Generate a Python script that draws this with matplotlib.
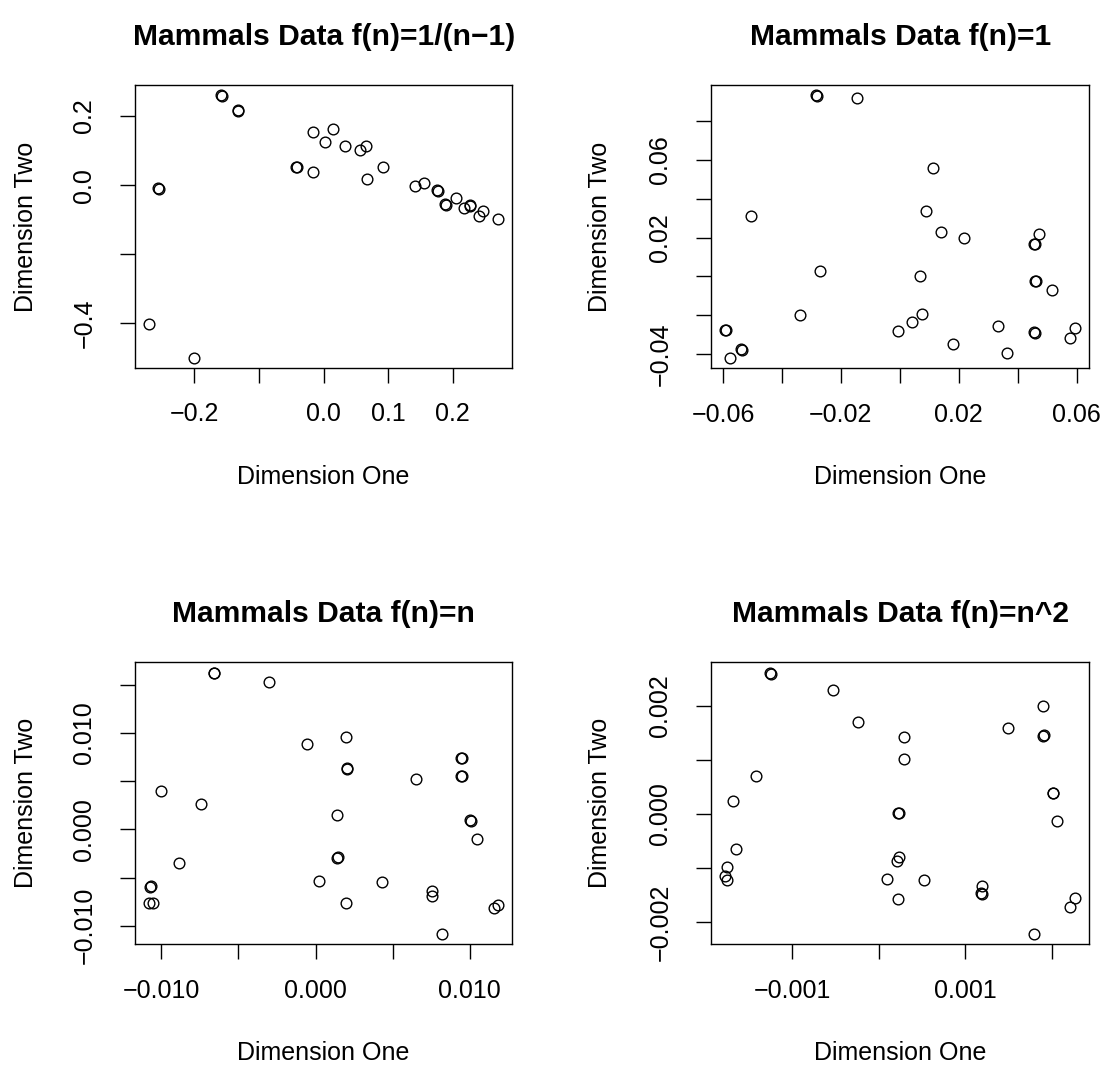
import matplotlib
matplotlib.use("Agg")
import matplotlib.pyplot as plt
import numpy as np

plt.rcParams['font.family'] = ['Liberation Sans', 'DejaVu Sans']

titles = ["Mammals Data f(n)=1/(n\u22121)", "Mammals Data f(n)=1",
          "Mammals Data f(n)=n", "Mammals Data f(n)=n^2"]
xlabel_text = "Dimension One"
ylabel_text = "Dimension Two"

# ---- panel 1: f(n)=1/(n-1)
p1_x = [-0.1586, -0.1329, -0.0170, 0.0150, 0.0026, 0.0324, 0.0561, 0.0654, -0.0428,
        -0.0170, 0.0665, 0.0922, -0.2565, 0.1407, 0.1557, 0.1757, 0.1881, 0.2056,
        0.2179, 0.2263, 0.2406, 0.2468, 0.2705, -0.2705, -0.2014,
        -0.1576, -0.1319, -0.0420, -0.2555, 0.1767, 0.1891, 0.2273]
p1_y = [0.2597, 0.2173, 0.1546, 0.1634, 0.1241, 0.1126, 0.1010, 0.1126, 0.0540,
        0.0396, 0.0194, 0.0540, -0.0095, -0.0021, 0.0078, -0.0144, -0.0557, -0.0366,
        -0.0655, -0.0577, -0.0904, -0.0741, -0.0981, -0.4030, -0.4987,
        0.2570, 0.2150, 0.0520, -0.0120, -0.0165, -0.0580, -0.0600]
p1_xticks = [-0.2, -0.1, 0.0, 0.1, 0.2]
p1_xlabels = ["\u22120.2", "", "0.0", "0.1", "0.2"]
p1_yticks = [-0.4, -0.2, 0.0, 0.2]
p1_ylabels = ["\u22120.4", "", "0.0", "0.2"]

# ---- panel 2: f(n)=1
p2_x = [-0.02834, -0.01458, 0.01142, -0.05061, 0.00895, 0.01390, 0.02183, 0.04736,
        0.04556, -0.02698, 0.00692, 0.04600, 0.05153, -0.03400, 0.00746, 0.00407,
        -0.00054, -0.05932, 0.03322, 0.04566, 0.01797, 0.03627, -0.05376, -0.05749,
        0.05956, 0.05776,
        -0.02800, 0.04580, 0.04620, -0.05900, 0.04600, -0.05350]
p2_y = [0.09325, 0.09186, 0.05600, 0.03127, 0.03385, 0.02282, 0.01973, 0.02215,
        0.01685, 0.00273, 0.00000, -0.00222, -0.00670, -0.02009, -0.01942, -0.02334,
        -0.02818, -0.02731, -0.02540, -0.02870, -0.03452, -0.03931, -0.03761, -0.04189,
        -0.02643, -0.03158,
        0.09300, 0.01660, -0.00240, -0.02750, -0.02900, -0.03790]
p2_xticks = [-0.06, -0.04, -0.02, 0.0, 0.02, 0.04, 0.06]
p2_xlabels = ["\u22120.06", "", "\u22120.02", "", "0.02", "", "0.06"]
p2_yticks = [-0.04, -0.02, 0.0, 0.02, 0.04, 0.06, 0.08]
p2_ylabels = ["\u22120.04", "", "", "0.02", "", "0.06", ""]

# ---- panel 3: f(n)=n
p3_x = [-0.006615, -0.003036, -0.000576, 0.001948, 0.002013, 0.009482, 0.009482,
        0.006505, -0.010000, -0.007411, 0.001366, 0.010000, 0.010453, 0.001411,
        -0.008880, 0.000201, 0.004304, -0.010712, 0.007540, 0.007579, -0.010803,
        -0.010544, 0.001974, 0.011573, 0.011851, 0.008226,
        -0.006560, 0.002060, 0.009430, 0.009440, 0.010050, 0.001450, -0.010680]
p3_y = [0.016188, 0.015289, 0.008853, 0.009607, 0.006374, 0.007407, 0.005506,
        0.005196, 0.003957, 0.002655, 0.001477, 0.000930, -0.001002, -0.002996,
        -0.003543, -0.005341, -0.005506, -0.005961, -0.006374, -0.006921, -0.007676,
        -0.007676, -0.007676, -0.008130, -0.007820, -0.010847,
        0.016250, 0.006300, 0.007450, 0.005560, 0.000880, -0.002900, -0.005900]
p3_xticks = [-0.010, -0.005, 0.0, 0.005, 0.010]
p3_xlabels = ["\u22120.010", "", "0.000", "", "0.010"]
p3_yticks = [-0.010, -0.005, 0.0, 0.005, 0.010, 0.015]
p3_ylabels = ["\u22120.010", "", "0.000", "", "0.010", ""]

# ---- panel 4: f(n)=n^2
p4_x = [-0.0012572, -0.000534, -0.0002457, 0.0019031, 0.0014994, 0.0019031, 0.0002884,
        0.0002884, -0.0014187, -0.0016874, 0.0020185, 0.0002191, 0.0020565, -0.0016494,
        0.0002272, 0.0002076, -0.0017566, -0.0017797, -0.0017566, 0.0000888, 0.0005225,
        0.0011961, 0.0011880, 0.0002191, 0.0017993, 0.0022722, 0.0022111,
        -0.0012470, 0.0019130, 0.0020090, 0.0002290, 0.0011790]
p4_y = [0.0026046, 0.0022857, 0.0017014, 0.0019908, 0.0015797, 0.0014378, 0.0014194,
        0.0010138, 0.0007060, 0.0002452, 0.0003926, 0.0000240, -0.0001235, -0.0006452,
        -0.0007982, -0.0008664, -0.0009825, -0.0011429, -0.0012166, -0.0011982,
        -0.0012111, -0.0013272, -0.0014802, -0.0015613, -0.0022120, -0.0015429,
        -0.0017088,
        0.0025900, 0.0014500, 0.0003800, 0.0000100, -0.0014650]
p4_xticks = [-0.001, 0.0, 0.001, 0.002]
p4_xlabels = ["\u22120.001", "", "0.001", ""]
p4_yticks = [-0.002, -0.001, 0.0, 0.001, 0.002]
p4_ylabels = ["\u22120.002", "", "0.000", "", "0.002"]

panels = [
    (p1_x, p1_y, p1_xticks, p1_xlabels, p1_yticks, p1_ylabels),
    (p2_x, p2_y, p2_xticks, p2_xlabels, p2_yticks, p2_ylabels),
    (p3_x, p3_y, p3_xticks, p3_xlabels, p3_yticks, p3_ylabels),
    (p4_x, p4_y, p4_xticks, p4_xlabels, p4_yticks, p4_ylabels),
]

W, H = 1117, 1074
fig = plt.figure(figsize=(W / 100, H / 100), dpi=100)

# axes boxes in pixels: left, top, right, bottom
boxes = [(135, 85, 512.3, 368), (711, 85, 1089.3, 368.3),
         (135, 662.3, 512.3, 944.3), (711, 662.3, 1089.3, 944.3)]
ylab_off = [97, 99, 97, 99]

FS = 18
TFS = 21.6


def rlim(v):
    lo, hi = min(v), max(v)
    r = hi - lo
    return lo - 0.04 * r, hi + 0.04 * r


for i, (px, py, xt, xl, yt, yl) in enumerate(panels):
    l, t, r, b = boxes[i]
    ax = fig.add_axes([l / W, 1 - b / H, (r - l) / W, (b - t) / H])
    ax.plot(px, py, linestyle='none', marker='o', markersize=7.7,
            markerfacecolor='none', markeredgecolor='black', markeredgewidth=1.0)
    ax.set_xlim(*rlim(px))
    ax.set_ylim(*rlim(py))
    ax.set_xticks(xt)
    ax.set_xticklabels(xl)
    ax.set_yticks(yt)
    ax.set_yticklabels(yl)
    for s in ax.spines.values():
        s.set_linewidth(1.0)
    ax.tick_params(axis='both', direction='out', length=10.8, width=1.0,
                   labelsize=FS, colors='black')
    ax.tick_params(axis='x', pad=14)
    ax.tick_params(axis='y', pad=17, labelrotation=90)
    for lab in ax.get_yticklabels():
        lab.set_va('center')
        lab.set_ha('right')
    ax.set_title(titles[i], fontsize=TFS, fontweight='bold', pad=29)
    ax.set_xlabel(xlabel_text, fontsize=FS)
    ax.set_ylabel(ylabel_text, fontsize=FS)
    ax.xaxis.set_label_coords(0.5, -97 / (b - t))
    ax.yaxis.set_label_coords(-ylab_off[i] / (r - l), 0.5)

fig.savefig("out.png", dpi=100)
